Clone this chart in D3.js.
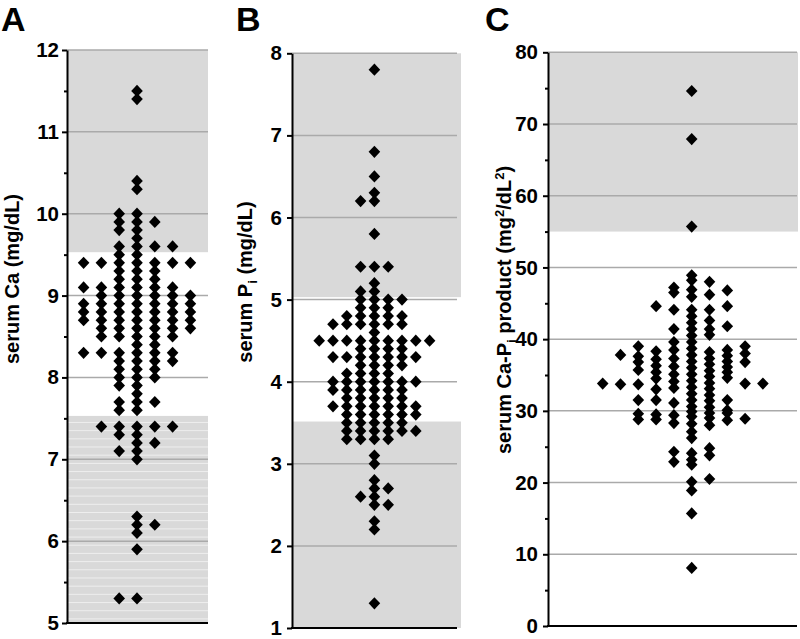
<!DOCTYPE html>
<html>
<head>
<meta charset="utf-8">
<script src="https://cdn.jsdelivr.net/npm/d3@7"></script>
<style>
  html, body { margin: 0; padding: 0; background: #fff; }
  svg { display: block; font-family: "Liberation Sans", Arial, sans-serif; }
</style>
</head>
<body>
<svg id="chart" width="800" height="639"></svg>
<script>
// ---------- DATA ----------
// Panel A: serum Ca (mg/dL), one array per dot column (left to right)
const caOffsets = [-3, -2, -1, 0, 1, 2, 3];
const caColumns = [
  [9.4, 9.1, 8.9, 8.8, 8.7, 8.3],
  [9.4, 9.1, 9.0, 8.9, 8.8, 8.7, 8.6, 8.5, 8.3, 7.4],
  [10.0, 9.9, 9.8, 9.6, 9.5, 9.4, 9.3, 9.2, 9.1, 9.0, 8.9, 8.8, 8.7, 8.6, 8.5, 8.3, 8.2, 8.1, 8.0, 7.9, 7.7, 7.6, 7.4, 7.3, 7.1, 5.3],
  [11.5, 11.4, 10.4, 10.3, 10.0, 9.9, 9.8, 9.7, 9.6, 9.5, 9.4, 9.3, 9.2, 9.1, 9.0, 8.9, 8.8, 8.7, 8.6, 8.5, 8.4, 8.3, 8.2, 8.1, 8.0, 7.9, 7.8, 7.7, 7.6, 7.4, 7.3, 7.2, 7.1, 7.0, 6.3, 6.2, 6.1, 5.9, 5.3],
  [9.9, 9.6, 9.4, 9.3, 9.2, 9.1, 9.0, 8.9, 8.8, 8.7, 8.6, 8.5, 8.4, 8.3, 8.2, 8.1, 8.0, 7.7, 7.4, 7.2, 6.2],
  [9.6, 9.4, 9.1, 9.0, 8.9, 8.8, 8.7, 8.6, 8.5, 8.3, 8.2, 7.4],
  [9.4, 9.0, 8.9, 8.8, 8.7, 8.6]
];
const caTicks = [5, 6, 7, 8, 9, 10, 11, 12];
const caMinorTicks = [5.5, 6.5, 7.5, 8.5, 9.5, 10.5, 11.5];
const caBands = [[9.53, 12], [5, 7.53]];

// Panel B: serum Pi (mg/dL)
const piOffsets = [-4, -3, -2, -1, 0, 1, 2, 3, 4];
const piColumns = [
  [4.5],
  [4.7, 4.5, 4.3, 4.0, 3.9, 3.7],
  [4.8, 4.7, 4.5, 4.3, 4.1, 4.0, 3.9, 3.8, 3.7, 3.6, 3.5, 3.4, 3.3],
  [6.2, 5.4, 5.1, 5.0, 4.9, 4.8, 4.7, 4.5, 4.4, 4.3, 4.2, 4.1, 4.0, 3.9, 3.8, 3.7, 3.6, 3.5, 3.4, 3.3, 2.6],
  [7.8, 6.8, 6.5, 6.3, 6.2, 5.8, 5.4, 5.2, 5.1, 5.0, 4.9, 4.8, 4.7, 4.6, 4.5, 4.4, 4.3, 4.2, 4.1, 4.0, 3.9, 3.8, 3.7, 3.6, 3.5, 3.4, 3.3, 3.1, 3.0, 2.8, 2.7, 2.6, 2.5, 2.3, 2.2, 1.3],
  [5.4, 5.0, 4.9, 4.8, 4.7, 4.5, 4.4, 4.3, 4.2, 4.1, 4.0, 3.9, 3.8, 3.7, 3.6, 3.5, 3.4, 3.3, 2.7, 2.5],
  [5.0, 4.8, 4.7, 4.5, 4.4, 4.3, 4.2, 4.0, 3.9, 3.8, 3.7, 3.6, 3.5, 3.4],
  [4.5, 4.3, 4.0, 3.7, 3.6, 3.4],
  [4.5]
];
const piTicks = [1, 2, 3, 4, 5, 6, 7, 8];
const piMinorTicks = [];
const piBands = [[5.03, 8], [1, 3.515]];

// Panel C: serum Ca-Pi product (mg2/dL2)
const cppOffsets = [-5, -4, -3, -2, -1, 0, 1, 2, 3, 4];
const cppColumns = [
  [33.8],
  [37.8, 33.7],
  [39.0, 37.6, 36.8, 35.7, 33.7, 31.5, 29.6, 28.8],
  [44.6, 38.3, 37.2, 36.3, 35.4, 34.5, 33.0, 31.5, 29.5, 28.8],
  [47.2, 46.5, 44.1, 41.4, 39.6, 38.5, 37.3, 36.2, 35.1, 34.1, 33.2, 31.1, 29.4, 28.3, 24.3, 22.9],
  [74.6, 67.9, 55.7, 48.9, 48.2, 46.9, 45.9, 44.1, 43.2, 42.3, 41.4, 40.5, 39.6, 38.7, 37.8, 36.9, 36.0, 35.1, 34.2, 33.3, 32.4, 31.5, 30.6, 29.9, 29.2, 28.2, 27.1, 26.2, 24.1, 23.2, 22.5, 20.1, 18.9, 15.7, 8.1],
  [48.0, 46.2, 44.1, 42.6, 41.4, 40.6, 38.2, 37.3, 36.5, 35.6, 34.8, 33.9, 33.1, 32.2, 31.4, 30.5, 29.7, 29.0, 28.0, 24.8, 23.8, 20.5],
  [46.8, 44.6, 41.8, 38.5, 37.7, 36.9, 36.1, 35.4, 34.6, 31.5, 30.1, 29.7, 28.7],
  [39.0, 38.0, 36.8, 33.8, 28.9],
  [33.8]
];
const cppTicks = [0, 10, 20, 30, 40, 50, 60, 70, 80];
const cppMinorTicks = [5, 15, 25, 35, 45, 55, 65, 75];
const cppBands = [[55, 80]];

// ---------- DRAW ----------
const svg = d3.select("#chart");
const BAND = "#d9d9d9", GRID = "#aaaaaa";

function diamond(rx, ry) {
  return `M0,${-ry}L${rx},0L0,${ry}L${-rx},0Z`;
}

function panel(cfg) {
  const g = svg.append("g");
  const y = d3.scaleLinear().domain(cfg.yDomain).range([cfg.bottom, cfg.top]);
  const x = d3.scaleLinear().domain(cfg.xDomain).range(cfg.xRange);

  // shaded reference bands
  cfg.bands.forEach(b => {
    g.append("rect")
      .attr("x", cfg.left).attr("width", cfg.bandRight - cfg.left)
      .attr("y", y(b[1])).attr("height", y(b[0]) - y(b[1]))
      .attr("fill", BAND);
  });
  // fine stripes in striped band
  if (cfg.stripe) {
    const s = cfg.stripe;
    const vals = d3.range(Math.round(s.from * 10), Math.round(s.to * 10)).map(v => v / 10 + 0.05);
    g.selectAll(".stripe").data(vals).enter().append("line")
      .attr("x1", cfg.left).attr("x2", cfg.bandRight)
      .attr("y1", d => y(d)).attr("y2", d => y(d))
      .attr("stroke", "#eeeeee").attr("stroke-width", 1);
  }
  // gridlines
  g.selectAll(".grid").data(cfg.ticks.slice(1)).enter().append("line")
    .attr("x1", cfg.left).attr("x2", cfg.gridRight)
    .attr("y1", d => y(d)).attr("y2", d => y(d))
    .attr("stroke", GRID).attr("stroke-width", 1.5);

  // points
  const pts = [];
  cfg.columns.forEach((col, i) => col.forEach(v => pts.push({ c: cfg.offsets[i], v })));
  g.selectAll(".pt").data(pts).enter().append("path")
    .attr("d", diamond(5.8, 6.1))
    .attr("transform", d => `translate(${x(d.c)},${y(d.v)})`)
    .attr("fill", "#000");

  // y axis
  const ax = g.append("g").attr("transform", `translate(${cfg.left},0)`)
    .call(d3.axisLeft(y).tickValues(cfg.ticks).tickSize(5).tickSizeOuter(0).tickPadding(cfg.pad).tickFormat(d3.format("d")));
  ax.select(".domain").attr("stroke", "#000").attr("stroke-width", 2);
  ax.selectAll(".tick line").attr("stroke", "#000").attr("stroke-width", 2);
  ax.selectAll(".tick text").attr("font-size", 20.5).attr("font-weight", "bold").attr("fill", "#000")
    .attr("font-family", "Liberation Sans, Arial, sans-serif");
  if (cfg.minor.length) {
    const mx = g.append("g").attr("transform", `translate(${cfg.left},0)`)
      .call(d3.axisLeft(y).tickValues(cfg.minor).tickSize(3).tickSizeOuter(0).tickFormat(""));
    mx.select(".domain").remove();
    mx.selectAll(".tick line").attr("stroke", "#000").attr("stroke-width", 2);
  }
  // x baseline
  g.append("line")
    .attr("x1", cfg.left - 1).attr("x2", cfg.gridRight)
    .attr("y1", y(cfg.yDomain[0])).attr("y2", y(cfg.yDomain[0]))
    .attr("stroke", "#000").attr("stroke-width", 2);

  // y label
  const t = g.append("text")
    .attr("transform", `translate(${cfg.labelX},${cfg.labelY}) rotate(-90)`)
    .attr("text-anchor", "middle")
    .attr("font-size", 20).attr("font-weight", "bold").attr("fill", "#000");
  cfg.label.forEach(p => {
    const ts = t.append("tspan").text(p.t);
    if (p.dy) ts.attr("dy", p.dy);
    if (p.fs) ts.attr("font-size", p.fs);
  });

  // panel letter
  svg.append("text").attr("x", cfg.letterX).attr("y", 31)
    .attr("font-size", 34).attr("font-weight", "bold").attr("fill", "#000")
    .text(cfg.letter);
}

panel({
  letter: "A", letterX: 1,
  yDomain: [5, 12], top: 50, bottom: 623,
  xDomain: [-3, 3], xRange: [83.6, 190.4],
  left: 67, gridRight: 208, bandRight: 208,
  bands: caBands, stripe: { from: 5, to: 7.5 },
  ticks: caTicks, minor: caMinorTicks, pad: 3,
  columns: caColumns, offsets: caOffsets,
  labelX: 19, labelY: 279,
  label: [{ t: "serum Ca (mg/dL)" }]
});

panel({
  letter: "B", letterX: 236,
  yDomain: [1, 8], top: 53.3, bottom: 628,
  xDomain: [-4, 4], xRange: [319.2, 429.6],
  left: 292, gridRight: 457, bandRight: 461,
  bands: piBands, stripe: null,
  ticks: piTicks, minor: piMinorTicks, pad: 5,
  columns: piColumns, offsets: piOffsets,
  labelX: 252, labelY: 282,
  label: [{ t: "serum P" }, { t: "i", dy: 5, fs: 13 }, { t: " (mg/dL)", dy: -5 }]
});

panel({
  letter: "C", letterX: 485,
  yDomain: [0, 80], top: 52.3, bottom: 626,
  xDomain: [-5, 4], xRange: [602.7, 762.9],
  left: 548, gridRight: 797, bandRight: 798,
  bands: cppBands, stripe: null,
  ticks: cppTicks, minor: cppMinorTicks, pad: 5,
  columns: cppColumns, offsets: cppOffsets,
  labelX: 511, labelY: 310,
  label: [{ t: "serum Ca-P" }, { t: "i", dy: 5, fs: 13 }, { t: " product (mg", dy: -5 },
          { t: "2", dy: -7, fs: 13 }, { t: "/dL", dy: 7 }, { t: "2", dy: -7, fs: 13 }, { t: ")", dy: 7 }]
});
</script>
</body>
</html>
